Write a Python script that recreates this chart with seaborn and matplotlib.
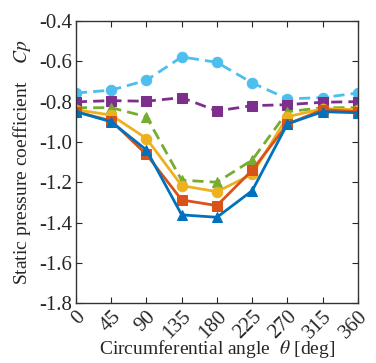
import numpy as np
import pandas as pd
import matplotlib
matplotlib.use("Agg")
import matplotlib.pyplot as plt
import seaborn as sns

# Circumferential measurement angles [deg]
angles = [0, 45, 90, 135, 180, 225, 270, 315, 360]

# Static pressure coefficient Cp for each case
cp_blue = [-0.85, -0.90, -1.04, -1.362, -1.374, -1.242, -0.91, -0.85, -0.855]
cp_red = [-0.85, -0.895, -1.062, -1.288, -1.316, -1.14, -0.912, -0.84, -0.85]
cp_yellow = [-0.84, -0.867, -0.983, -1.217, -1.247, -1.16, -0.875, -0.835, -0.84]
cp_green = [-0.83, -0.83, -0.875, -1.19, -1.20, -1.09, -0.85, -0.83, -0.83]
cp_purple = [-0.801, -0.795, -0.798, -0.78, -0.846, -0.82, -0.815, -0.803, -0.80]
cp_cyan = [-0.757, -0.743, -0.694, -0.578, -0.605, -0.707, -0.786, -0.78, -0.757]

yticks = [-1.8, -1.6, -1.4, -1.2, -1.0, -0.8, -0.6, -0.4]

sns.set_style("ticks")
plt.rcParams["font.family"] = ["Liberation Serif", "DejaVu Serif"]
plt.rcParams["mathtext.fontset"] = "stix"
plt.rcParams["axes.unicode_minus"] = False

fig = plt.figure(figsize=(3.76, 3.63), dpi=100)
ax = fig.add_axes([0.202, 0.165, 0.750, 0.777])

series = [
    (cp_cyan, "#4DBEEE", "o", "--"),
    (cp_purple, "#7E2F8E", "s", "--"),
    (cp_green, "#77AC30", "^", "--"),
    (cp_yellow, "#EDB120", "o", "-"),
    (cp_red, "#D95319", "s", "-"),
    (cp_blue, "#0072BD", "^", "-"),
]

for vals, color, marker, ls in series:
    df = pd.DataFrame({"angle": angles, "cp": vals})
    sns.lineplot(data=df, x="angle", y="cp", ax=ax, color=color,
                 marker=marker, markersize=7.5 if marker != "s" else 6.5,
                 markeredgecolor=color, linewidth=2.0)
    line = ax.lines[-1]
    if ls == "--":
        line.set_dashes((4.0, 2.2))
    else:
        line.set_linestyle("-")

ax.set_xlim(0, 360)
ax.set_ylim(-1.8, -0.4)
ax.set_xticks(angles)
ax.set_xticklabels([str(a) for a in angles], rotation=45, ha="right",
                   rotation_mode="anchor", fontsize=15)
ax.set_yticks(yticks)
ax.set_yticklabels([f"{v:.1f}" for v in yticks], fontsize=15)
ax.tick_params(direction="in", top=True, right=True, length=4, width=0.8,
               pad=3)
for sp in ax.spines.values():
    sp.set_linewidth(1.0)
    sp.set_color("#333333")

ax.set_xlabel(r"Circumferential angle  $\theta$ [deg]", fontsize=14,
              va="bottom")
ax.xaxis.set_label_coords(0.5, -0.203)
ax.set_ylabel(r"Static pressure coefficient    $Cp$", fontsize=14, labelpad=4)

fig.savefig("out.png", dpi=100)
